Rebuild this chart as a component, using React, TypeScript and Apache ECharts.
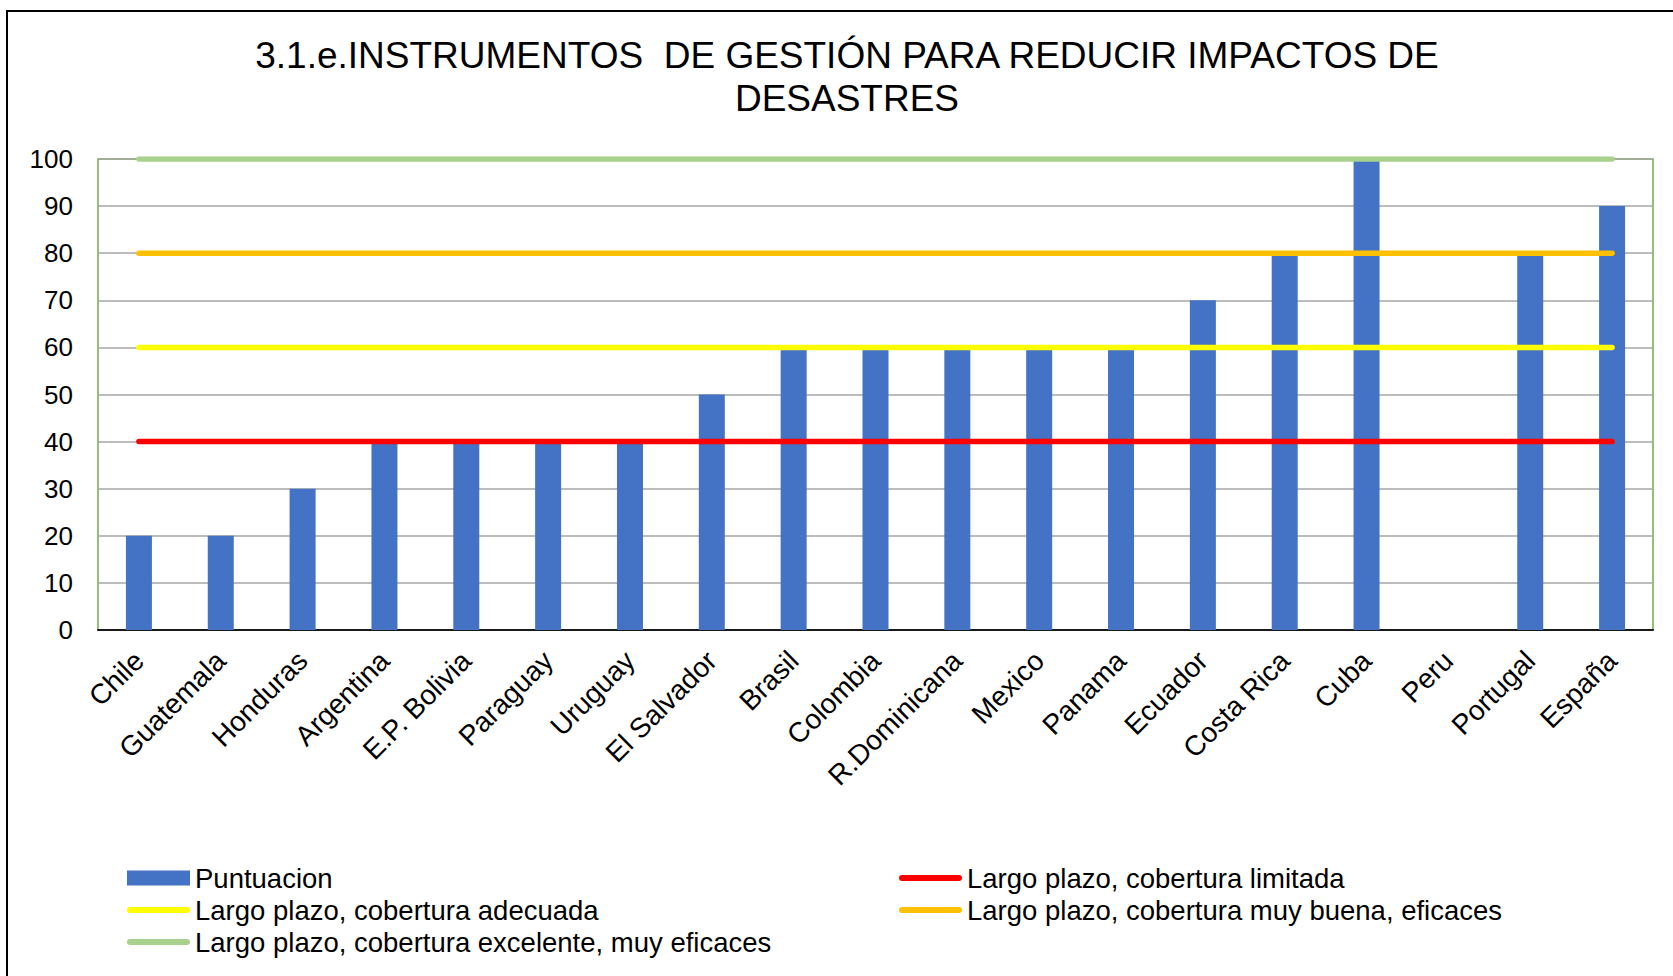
import React, { useEffect, useRef } from "react";
import * as echarts from "echarts";

const categories = [
  "Chile", "Guatemala", "Honduras", "Argentina", "E.P. Bolivia", "Paraguay", "Uruguay",
  "El Salvador", "Brasil", "Colombia", "R.Dominicana", "Mexico", "Panama", "Ecuador",
  "Costa Rica", "Cuba", "Peru", "Portugal", "España",
];
const puntuacion = [20, 20, 30, 40, 40, 40, 40, 50, 60, 60, 60, 60, 60, 70, 80, 100, 0, 80, 90];

const thresholdNames = [
  "Largo plazo, cobertura limitada",
  "Largo plazo, cobertura adecuada",
  "Largo plazo, cobertura muy buena, eficaces",
  "Largo plazo, cobertura excelente, muy eficaces",
];
const thresholdValues = [40, 60, 80, 100];
const thresholdColors = ["#ff0000", "#ffff00", "#ffc000", "#a9d18e"];

const yTicks = [0, 10, 20, 30, 40, 50, 60, 70, 80, 90, 100];

const TITLE = "3.1.e.INSTRUMENTOS  DE GESTIÓN PARA REDUCIR IMPACTOS DE\nDESASTRES";
const FONT = "'Liberation Sans', Arial, sans-serif";
const LINE_ICON = "path://M3,0 L60,0 A3,3 0 0 1 60,6 L3,6 A3,3 0 0 1 3,0 Z";

export default function App() {
  const ref = useRef<HTMLDivElement>(null);
  useEffect(() => {
    if (!ref.current) return;
    const chart = echarts.init(ref.current, null, { renderer: "svg" });
    const first = categories[0];
    const last = categories[categories.length - 1];
    const lineSeries = thresholdNames.map((name, i) => ({
      name,
      type: "line",
      data: [[first, thresholdValues[i]], [last, thresholdValues[i]]],
      symbol: "none",
      lineStyle: { color: thresholdColors[i], width: 5.5, cap: "round" },
      itemStyle: { color: thresholdColors[i] },
      z: 3,
    }));
    const legendText = { fontFamily: FONT, fontSize: 27.5, lineHeight: 28, color: "#000" };
    chart.setOption({
      animation: false,
      backgroundColor: "#ffffff",
      textStyle: { fontFamily: FONT },
      title: {
        text: TITLE,
        left: 847,
        top: 34,
        textAlign: "center",
        padding: 0,
        textStyle: { fontFamily: FONT, fontSize: 37, fontWeight: "normal", color: "#000", lineHeight: 43 },
      },
      graphic: [
        {
          type: "polyline",
          shape: { points: [[7, 976], [7, 11], [1673, 11]] },
          style: { stroke: "#000", lineWidth: 2, fill: "none" },
          silent: true,
        },
      ],
      legend: [
        {
          orient: "vertical",
          left: 127,
          top: 864,
          itemWidth: 63,
          itemHeight: 15,
          itemGap: 4,
          padding: 0,
          symbolKeepAspect: true,
          data: [
            { name: "Puntuacion", icon: "rect" },
            { name: thresholdNames[1], icon: LINE_ICON },
            { name: thresholdNames[3], icon: LINE_ICON },
          ],
          textStyle: legendText,
          itemStyle: { borderWidth: 0 },
        },
        {
          orient: "vertical",
          left: 899,
          top: 864,
          itemWidth: 63,
          itemHeight: 15,
          itemGap: 4,
          padding: 0,
          symbolKeepAspect: true,
          data: [
            { name: thresholdNames[0], icon: LINE_ICON },
            { name: thresholdNames[2], icon: LINE_ICON },
          ],
          textStyle: legendText,
          itemStyle: { borderWidth: 0 },
        },
      ],
      grid: {
        left: 98,
        right: 20,
        top: 159,
        bottom: 346,
        show: true,
        borderColor: "#70ad47",
        borderWidth: 1.5,
        backgroundColor: "#fff",
        containLabel: false,
      },
      xAxis: {
        type: "category",
        data: categories,
        axisLine: { show: true, lineStyle: { color: "#1a1a1a", width: 2 } },
        axisTick: { show: false },
        axisLabel: {
          rotate: 45,
          interval: 0,
          margin: 26,
          fontFamily: FONT,
          fontSize: 28,
          color: "#000",
        },
      },
      yAxis: {
        type: "value",
        min: yTicks[0],
        max: yTicks[yTicks.length - 1],
        interval: 10,
        axisLine: { show: false },
        axisTick: { show: false },
        axisLabel: { margin: 25, fontFamily: FONT, fontSize: 26, color: "#000" },
        splitLine: { lineStyle: { color: "#a6a6a6", width: 1.5 } },
      },
      series: [
        {
          name: "Puntuacion",
          type: "bar",
          data: puntuacion,
          barWidth: 26,
          itemStyle: { color: "#4472c4", borderWidth: 0 },
          z: 2,
        },
        ...lineSeries,
      ],
    });
    return () => chart.dispose();
  }, []);
  return (
    <div
      ref={ref}
      style={{ position: "absolute", left: 0, top: 0, width: 1673, height: 976 }}
    />
  );
}
